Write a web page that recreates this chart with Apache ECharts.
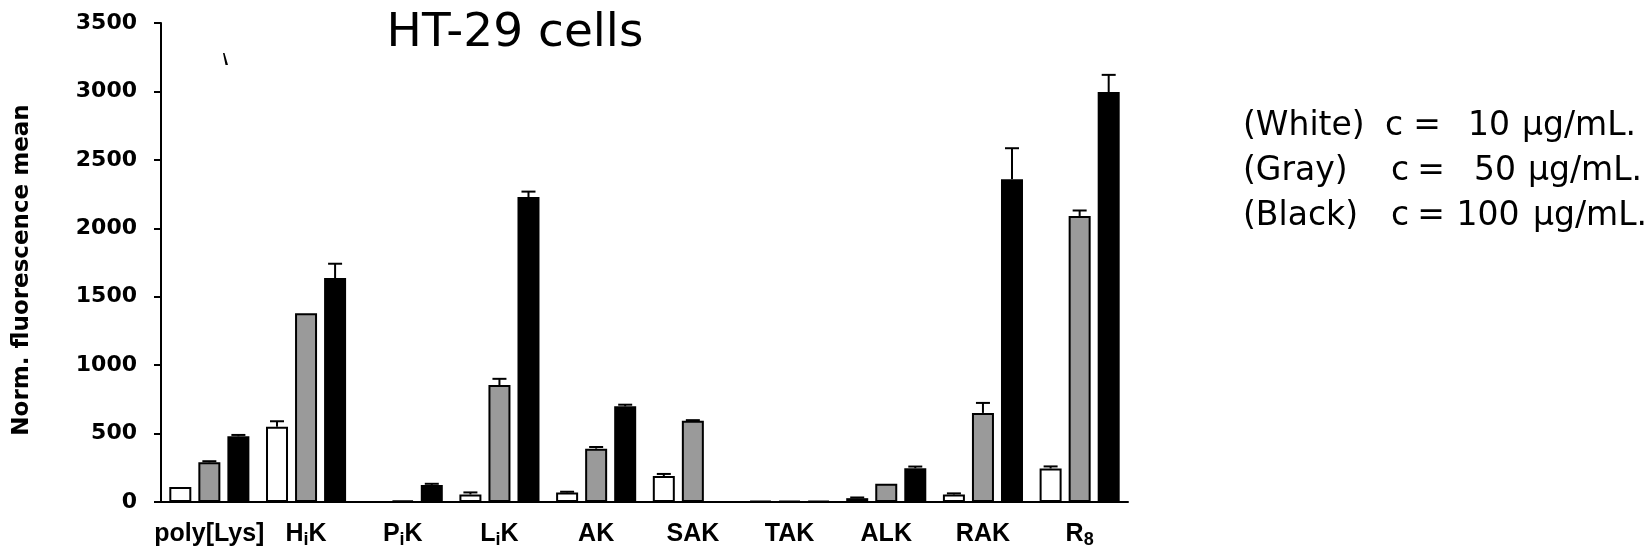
<!DOCTYPE html>
<html>
<head>
<meta charset="utf-8">
<title>HT-29 cells</title>
<script src="https://cdn.jsdelivr.net/npm/echarts@6/dist/echarts.min.js"></script>
<style>
  html, body { margin: 0; padding: 0; background: #fff; }
  #chart { width: 1652px; height: 554px; }
</style>
</head>
<body>
<div id="chart"></div>
<script>
// Peptide carriers on the x axis; "_x" marks a subscript character.
const categories = ['poly[Lys]', 'H_iK', 'P_iK', 'L_iK', 'AK', 'SAK', 'TAK', 'ALK', 'RAK', 'R_8'];

// Normalised fluorescence mean per concentration (null = no bar drawn)
const white10  = [110,  550, null,   55,  70, 190, 8,  28,   55,  245];
const gray50   = [290, 1380,   10,  855, 390, 593, 8, 133,  651, 2090];
const black100 = [480, 1636,  125, 2228, 699, null, 8, 247, 2359, 2996];

// Upper error (SD) for each bar
const white10Err  = [0, 40, 0, 15,  5, 15, 0, 5,   8,  15];
const gray50Err   = [8,  0, 0, 45, 12,  5, 0, 0,  73,  40];
const black100Err = [10, 105, 8, 40, 12, 0, 0, 12, 226, 125];

// Value axis range and step
const yMin = 0, yMax = 3500, yStep = 500;

// Legend lines: colour name, concentration value, unit
const legendNames = ['(White)', '(Gray)', '(Black)'];
const legendConc  = ['10', '50', '100'];
const legendUnit  = 'µg/mL.';

const BAR_W = 22;
const BAR_GAP = 0.32;
const PITCH = BAR_W * (1 + BAR_GAP);

function errorData(values, errs) {
  const out = [];
  values.forEach((v, i) => {
    if (v != null && errs[i] > 0) out.push([i, v, v + errs[i]]);
  });
  return out;
}

function errorSeries(values, errs, slot) {
  return {
    type: 'custom',
    z: 5,
    silent: true,
    data: errorData(values, errs),
    renderItem: function (params, api) {
      const base = api.coord([api.value(0), api.value(1)]);
      const top = api.coord([api.value(0), api.value(2)]);
      const x = base[0] + slot * PITCH;
      return {
        type: 'group',
        children: [
          { type: 'line', shape: { x1: x, y1: base[1], x2: x, y2: top[1] },
            style: { stroke: '#000', lineWidth: 2 } },
          { type: 'line', shape: { x1: x - 7, y1: top[1], x2: x + 7, y2: top[1] },
            style: { stroke: '#000', lineWidth: 2 } }
        ]
      };
    }
  };
}

function barSeries(name, values, fill) {
  return {
    name: name,
    type: 'bar',
    barWidth: BAR_W,
    barGap: (BAR_GAP * 100) + '%',
    data: values,
    itemStyle: { color: fill, borderColor: '#000', borderWidth: 2 },
    silent: true
  };
}

function richLabel(name) {
  return name.replace(/_(.)/g, '{s|$1}').replace(/(^|\})([^{}]+)(?=\{|$)/g, '$1{n|$2}');
}

const chart = echarts.init(document.getElementById('chart'), null, { renderer: 'canvas' });

// Legend text, laid out in columns: name | c | = | value | unit
const legendRowsY = [126, 171, 216];
const legendCX = [1394, 1400, 1400];
const legendEqX = [1427, 1431, 1431];
const legendVX = [1489, 1495, 1488];
const legendUX = [1522, 1528, 1533];
const legendText = [];
legendNames.forEach((n, i) => {
  const y = legendRowsY[i];
  const font = { fontFamily: 'DejaVu Sans', fontSize: 33, fill: '#000',
                 textVerticalAlign: 'middle', verticalAlign: 'middle' };
  const centred = Object.assign({ textAlign: 'center', align: 'center' }, font);
  legendText.push({ type: 'text', x: 1243, y: y, style: Object.assign({ text: n }, font) });
  legendText.push({ type: 'text', x: legendCX[i], y: y, style: Object.assign({ text: 'c' }, centred) });
  legendText.push({ type: 'text', x: legendEqX[i], y: y, style: Object.assign({ text: '=' }, centred) });
  legendText.push({ type: 'text', x: legendVX[i], y: y, style: Object.assign({ text: legendConc[i] }, centred) });
  legendText.push({ type: 'text', x: legendUX[i], y: y, style: Object.assign({ text: legendUnit }, font) });
});

chart.setOption({
  animation: false,
  backgroundColor: '#fff',
  grid: { left: 161, right: 524, top: 23, bottom: 52 },
  xAxis: {
    type: 'category',
    data: categories,
    boundaryGap: true,
    axisLine: { lineStyle: { color: '#000', width: 2 } },
    axisTick: { show: false },
    axisLabel: {
      margin: 16,
      interval: 0,
      formatter: richLabel,
      rich: {
        n: { fontFamily: 'Liberation Sans', fontWeight: 'bold', fontSize: 25, color: '#000', lineHeight: 32 },
        s: { fontFamily: 'Liberation Sans', fontWeight: 'bold', fontSize: 18, color: '#000',
             lineHeight: 18, verticalAlign: 'top', padding: [13, 0, 0, 0] }
      }
    },
    splitLine: { show: false }
  },
  yAxis: {
    type: 'value',
    min: yMin,
    max: yMax,
    interval: yStep,
    axisLine: { show: true, lineStyle: { color: '#000', width: 2 } },
    axisTick: { show: true, length: 7, lineStyle: { color: '#000', width: 2 } },
    axisLabel: {
      margin: 24, fontFamily: 'DejaVu Sans', fontWeight: 'bold', fontSize: 22, color: '#000',
      formatter: function (v) { return String(v); }
    },
    splitLine: { show: false }
  },
  series: [
    barSeries('c = 10 µg/mL', white10, '#ffffff'),
    barSeries('c = 50 µg/mL', gray50, '#9a9a9a'),
    barSeries('c = 100 µg/mL', black100, '#000000'),
    errorSeries(white10, white10Err, -1),
    errorSeries(gray50, gray50Err, 0),
    errorSeries(black100, black100Err, 1)
  ],
  graphic: [
    { type: 'text', x: 515, y: 34,
      style: { text: 'HT-29 cells', fontFamily: 'DejaVu Sans', fontSize: 47, fill: '#000',
               textAlign: 'center', align: 'center', textVerticalAlign: 'middle', verticalAlign: 'middle' } },
    { type: 'text', x: 22, y: 270, rotation: Math.PI / 2,
      style: { text: 'Norm. fluorescence mean', fontFamily: 'DejaVu Sans', fontWeight: 'bold', fontSize: 23, fill: '#000',
               textAlign: 'center', align: 'center', textVerticalAlign: 'middle', verticalAlign: 'middle' } },
    { type: 'polygon', shape: { points: [[223, 53], [224.5, 53], [228, 65], [225.5, 65]] },
      style: { fill: '#000' } }
  ].concat(legendText)
});
</script>
</body>
</html>
